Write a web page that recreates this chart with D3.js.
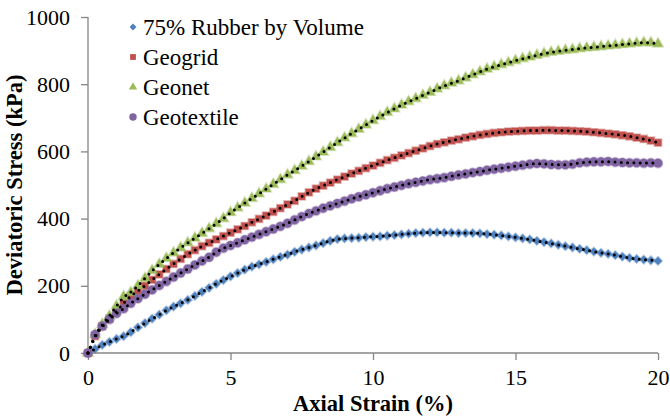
<!DOCTYPE html>
<html lang="en">
    <head>
        <meta charset="utf-8">
        <title>Deviatoric Stress vs Axial Strain</title>
        <script src="https://d3js.org/d3.v7.min.js"></script>
        <style type="text/css">
            body { margin: 0; background: #fff; }
            svg text { font-family: "Liberation Serif", "DejaVu Serif", serif !important; fill: #000; }
            .axis path, .axis line { stroke: #868686; stroke-width: 1.3; }
            .axis text { font-size: 22px; }
            .title { font-size: 22.5px; font-weight: bold; }
            .legend text { font-size: 23px; }
        </style>
    </head>
    <body>
        <script type="text/javascript">

            // strain readings (%), one every 0.25
            var strain = [0,0.25,0.5,0.75,1,1.25,1.5,1.75,2,2.25,2.5,2.75,3,3.25,3.5,3.75,4,4.25,4.5,4.75,
                5,5.25,5.5,5.75,6,6.25,6.5,6.75,7,7.25,7.5,7.75,8,8.25,8.5,8.75,9,9.25,9.5,9.75,
                10,10.25,10.5,10.75,11,11.25,11.5,11.75,12,12.25,12.5,12.75,13,13.25,13.5,13.75,14,14.25,14.5,14.75,
                15,15.25,15.5,15.75,16,16.25,16.5,16.75,17,17.25,17.5,17.75,18,18.25,18.5,18.75,19,19.25,19.5,19.75,20];

            // deviatoric stress (kPa) per series
            var rubber = [0,12,24,33,42,50,62,76,89,102,114,127,138,148,158,170,182,194,206,217,
                228,238,248,257,264,271,279,286,293,301,308,314,320,327,334,339,341,342,343,345,
                346,347,349,351,353,355,357,358,359,359,358,358,357,357,357,356,354,352,350,347,
                344,341,338,334,330,326,322,318,314,310,306,302,298,295,291,287,283,280,278,276,274];
            var geogrid = [0,50,80,102,125,148,170,185,200,218,234,250,265,280,294,306,318,328,338,348,
                358,368,378,389,399,409,420,431,442,453,466,478,489,498,507,516,525,534,542,550,
                558,566,574,581,588,595,602,609,616,622,627,632,636,641,645,649,652,655,657,659,
                660,661,662,662,663,663,662,662,661,660,659,657,655,653,651,648,645,641,637,632,626];
            var geonet = [0,55,85,110,140,168,180,200,222,245,264,282,298,313,328,342,356,370,385,400,
                418,432,446,460,474,488,502,516,530,543,556,570,584,598,612,626,640,653,666,679,
                692,704,716,727,738,748,757,767,776,786,795,803,810,819,828,837,845,852,858,864,
                870,876,881,886,891,895,898,901,903,906,908,910,912,914,916,918,920,922,924,923,920];
            var geotextile = [0,55,80,100,118,132,148,162,175,188,201,213,226,238,250,262,274,285,300,312,
                320,328,337,345,353,361,369,377,386,396,406,415,423,431,438,445,452,459,465,471,
                477,483,489,494,499,504,508,512,516,519,522,526,530,533,537,540,544,547,550,553,
                556,559,562,564,563,561,560,560,562,566,568,569,569,570,568,567,566,566,565,566,565];

            var seriesNames = ["75% Rubber by Volume", "Geogrid", "Geonet", "Geotextile"];
            var seriesValues = [rubber, geogrid, geonet, geotextile];
            var seriesColors = ["#4f81bd", "#c0504d", "#9bbb59", "#8064a2"];
            // diamond = square turned 45 degrees
            var seriesSymbols = [d3.symbolSquare, d3.symbolSquare, d3.symbolTriangle, d3.symbolCircle];
            var seriesRotate = [45, 0, 0, 0];
            var symbolSizes = [34, 48, 44, 62];

            var xTicks = [0, 5, 10, 15, 20];
            var yTicks = [0, 200, 400, 600, 800, 1000];

            var margin = {top: 17, right: 12, bottom: 63, left: 88},
                svgWidth = 670, svgHeight = 416,
                width = svgWidth - margin.left - margin.right,
                height = svgHeight - margin.top - margin.bottom;

            var xScale = d3.scaleLinear().domain([0, 20]).range([0, width]);
            var yScale = d3.scaleLinear().domain([0, 1000]).range([height, 0]);

            var svg = d3.select("body").append("svg")
                .attr("width", svgWidth)
                .attr("height", svgHeight)
                .attr("font-family", "Liberation Serif")
                .append("g")
                .attr("transform", "translate(" + margin.left + "," + margin.top + ")");

            // x-axis
            svg.append("g")
                .attr("class", "x axis")
                .attr("transform", "translate(0," + height + ")")
                .call(d3.axisBottom(xScale).tickValues(xTicks).tickFormat(d3.format("d"))
                    .tickSize(7).tickSizeOuter(0).tickPadding(9));

            // y-axis
            svg.append("g")
                .attr("class", "y axis")
                .call(d3.axisLeft(yScale).tickValues(yTicks).tickFormat(d3.format("d"))
                    .tickSize(7).tickSizeOuter(0).tickPadding(11));

            svg.selectAll(".axis").attr("font-family", null);
            svg.selectAll(".axis path").attr("d", function() {
                return d3.select(this.parentNode).classed("x") ? "M0,0H" + width : "M0,0V" + height;
            });

            // axis titles
            svg.append("text")
                .attr("class", "title")
                .attr("x", width / 2)
                .attr("y", height + 58)
                .style("text-anchor", "middle")
                .text("Axial Strain (%)");

            svg.append("text")
                .attr("class", "title")
                .attr("transform", "translate(-66," + (height / 2) + ") rotate(-90)")
                .style("text-anchor", "middle")
                .text("Deviatoric Stress (kPa)");

            // markers
            seriesValues.forEach(function(vals, i) {
                svg.append("g").selectAll("path")
                    .data(vals)
                    .enter().append("path")
                    .attr("transform", function(d, j) {
                        return "translate(" + xScale(strain[j]) + "," + yScale(d) + ") rotate(" + seriesRotate[i] + ")";
                    })
                    .attr("d", d3.symbol().type(seriesSymbols[i]).size(symbolSizes[i]))
                    .style("fill", seriesColors[i])
                    .style("stroke", seriesColors[i])
                    .style("stroke-opacity", 0.4)
                    .style("stroke-width", 1.8);
            });

            // black dotted trendlines
            var line = d3.line()
                .x(function(d, j) { return xScale(strain[j]); })
                .y(function(d) { return yScale(d); })
                .curve(d3.curveBasis);

            seriesValues.forEach(function(vals) {
                svg.append("path")
                    .attr("d", line(vals))
                    .style("fill", "none")
                    .style("stroke", "#000")
                    .style("stroke-width", 3)
                    .style("stroke-linecap", "round")
                    .style("stroke-dasharray", "0,6.3");
            });

            // legend
            var legend = svg.append("g")
                .attr("class", "legend")
                .attr("transform", "translate(45,10)");

            var item = legend.selectAll("g")
                .data(seriesNames)
                .enter().append("g")
                .attr("transform", function(d, i) { return "translate(0," + (i * 30) + ")"; });

            item.append("path")
                .attr("transform", function(d, i) { return "rotate(" + seriesRotate[i] + ")"; })
                .attr("d", function(d, i) { return d3.symbol().type(seriesSymbols[i]).size(symbolSizes[i] * 0.7)(); })
                .style("fill", function(d, i) { return seriesColors[i]; });

            item.append("text")
                .attr("x", 10)
                .attr("dy", "0.35em")
                .text(function(d) { return d; });
        </script>
    </body>
</html>
